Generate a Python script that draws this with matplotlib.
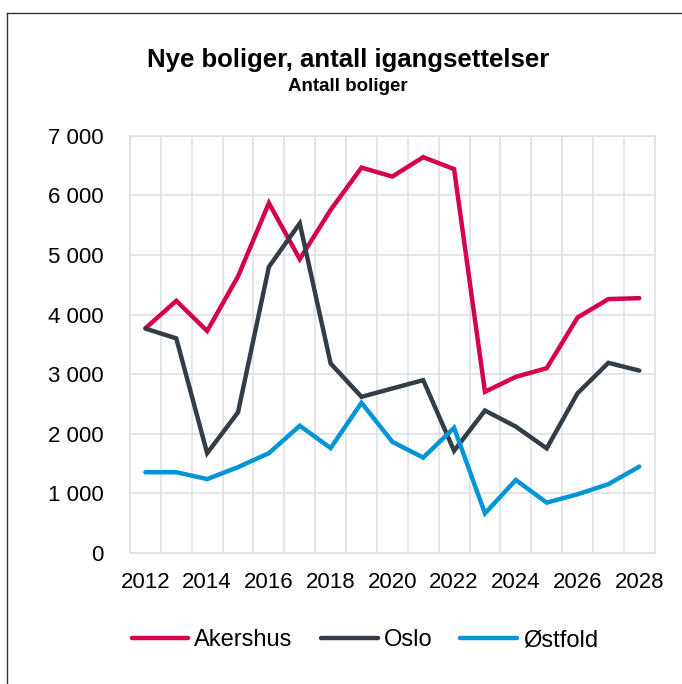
import numpy as np
import matplotlib
matplotlib.use("Agg")
import matplotlib.pyplot as plt
from matplotlib.ticker import FuncFormatter, MultipleLocator

# data
years = list(range(2012, 2029))
akershus = [3770, 4230, 3725, 4640, 5870, 4930, 5755, 6465, 6315, 6640, 6440,
            2705, 2955, 3100, 3950, 4260, 4275]
oslo = [3765, 3600, 1675, 2360, 4800, 5530, 3180, 2620, 2760, 2900, 1715,
        2390, 2120, 1755, 2680, 3190, 3060]
ostfold = [1355, 1355, 1240, 1440, 1675, 2135, 1760, 2520, 1865, 1600, 2100,
           665, 1225, 845, 985, 1155, 1450]

series_names = ["Akershus", "Oslo", "Østfold"]
colors = ["#d5004f", "#343d47", "#0095d6"]

plt.rcParams['font.family'] = ['Liberation Sans', 'DejaVu Sans']

fig = plt.figure(figsize=(6.82, 6.84), dpi=100)
ax = fig.add_axes([0.1906, 0.1915, 0.7694, 0.6101])

for vals, name, c in zip([akershus, oslo, ostfold], series_names, colors):
    ax.plot(years, vals, color=c, lw=3.2, label=name,
            solid_capstyle='round', solid_joinstyle='miter')

ax.set_xlim(2011.5, 2028.5)
ax.set_ylim(0, 7000)
ax.yaxis.set_major_locator(MultipleLocator(1000))
ax.yaxis.set_major_formatter(FuncFormatter(lambda v, p: f"{int(v):,}".replace(",", " ")))
ax.set_xticks(years[::2])
ax.set_xticks(np.arange(2011.5, 2029, 1), minor=True)

grid_c = "#dde1e6"
ax.grid(axis='y', which='major', color=grid_c, lw=1.2)
ax.grid(axis='x', which='minor', color=grid_c, lw=1.2)
ax.set_axisbelow(True)
for s in ax.spines.values():
    s.set_color(grid_c)
    s.set_linewidth(1.2)

ax.tick_params(which='both', length=0)
ax.tick_params(axis='y', pad=19, labelsize=16)
ax.tick_params(axis='x', pad=14, labelsize=16)

fig.text(0.51, 0.913, "Nye boliger, antall igangsettelser", ha='center', va='center',
         fontsize=18.5, fontweight='bold')
fig.text(0.51, 0.873, "Antall boliger", ha='center', va='center',
         fontsize=13.5, fontweight='bold')

fig.legend(loc='center', bbox_to_anchor=(0.535, 0.064), ncol=3, frameon=False,
           fontsize=17, handlelength=2.4, handletextpad=0.25, columnspacing=1.2)

# thin frame on top and left like the cropped original
fig.add_artist(plt.Line2D([0.0103, 1.0], [0.981, 0.981], color="#333333", lw=1.0))
fig.add_artist(plt.Line2D([0.0103, 0.0103], [0.0, 0.981], color="#333333", lw=1.0))

fig.savefig("out.png", dpi=100)
